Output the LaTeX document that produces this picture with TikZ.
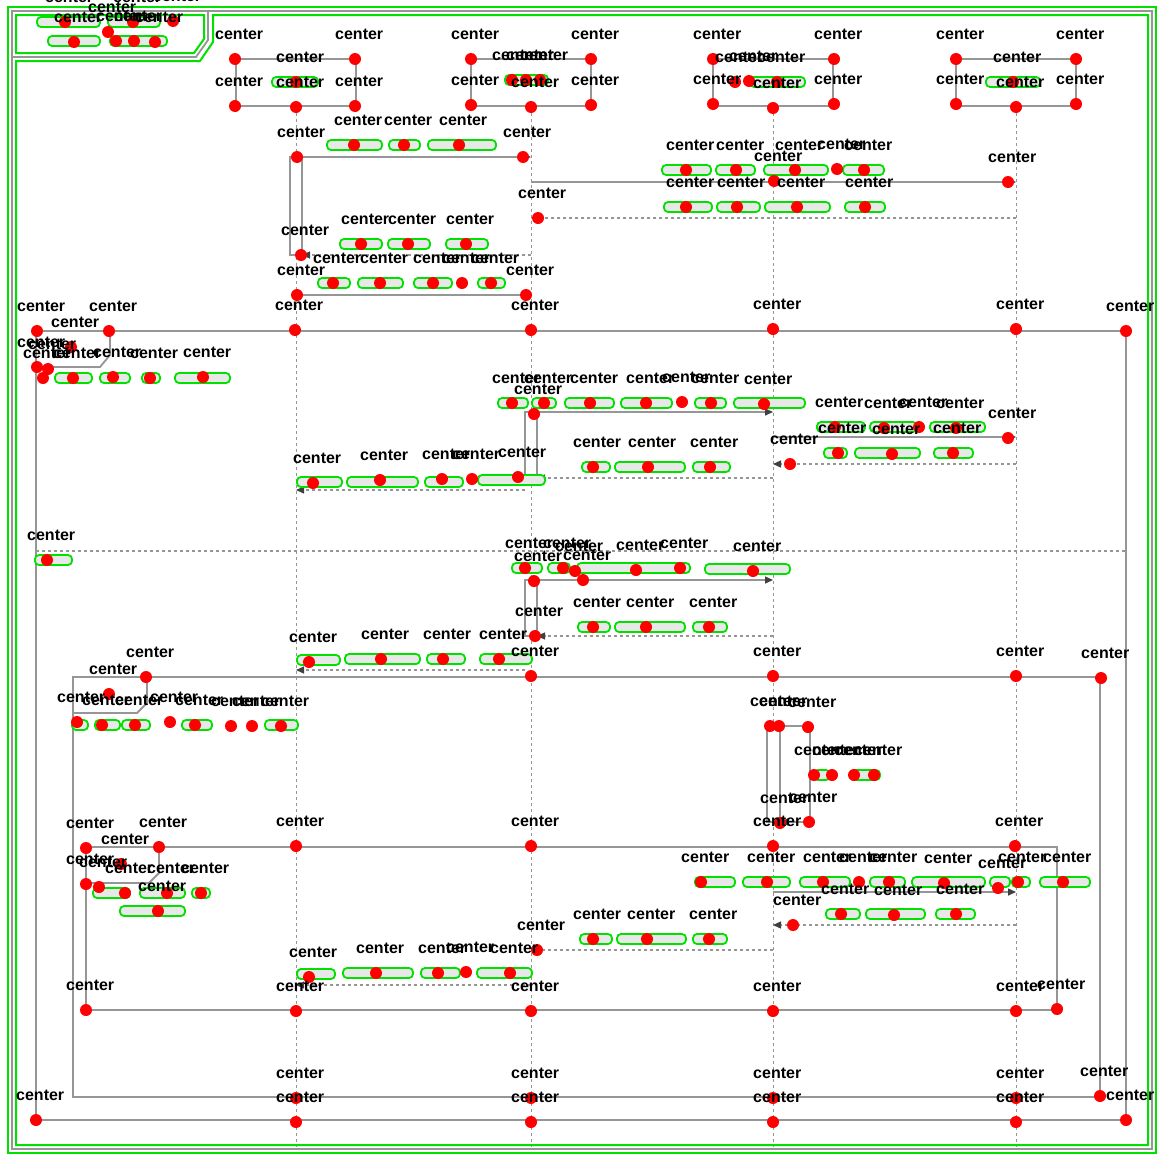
\documentclass[tikz,border=0pt]{standalone}
\usepackage{fontspec}
\setmainfont{Liberation Sans}
\usetikzlibrary{arrows.meta, positioning}
\definecolor{hitgreen}{RGB}{0,225,0}
\definecolor{hitred}{RGB}{255,0,0}
\definecolor{seqgray}{RGB}{150,150,150}
\def\xa{296}
\def\xb{531}
\def\xc{773}
\def\xd{1016}

\begin{document}
\begin{tikzpicture}[
    x=1pt, y=-1pt,
    >={Triangle[length=8pt,width=7pt,color=black!75]},
    partbox/.style={draw=seqgray, line width=1.5pt, fill=white, minimum width=120pt, minimum height=47pt, inner sep=0pt},
    lifeln/.style={draw=seqgray, line width=1pt, dash pattern=on 3pt off 3pt},
    fragln/.style={draw=seqgray, line width=1.8pt},
    actbar/.style={draw=seqgray, line width=1.3pt, fill=white},
    callmsg/.style={->, draw=seqgray, line width=1.5pt},
    retmsg/.style={->, draw=seqgray, line width=1.3pt, dash pattern=on 3pt off 3pt},
    txtblob/.style={draw=hitgreen, line width=1.8pt, fill=gray!18, rounded corners=4pt},
    hitline/.style={draw=hitgreen, line width=2pt},
    cdot/.style={fill=hitred},
    clbl/.style={font=\bfseries\fontsize{16}{16}\selectfont, anchor=base west, inner sep=0pt, text=black}
]
\useasboundingbox (0,0) rectangle (1167,1162);
\fill[white] (0,0) rectangle (1167,1162);

% participants and lifelines
\node[partbox] (pa) at (\xa,82.5) {};
\node[partbox] (pb) at (\xb,82.5) {};
\node[partbox] (pc) at (\xc,82.5) {};
\node[partbox] (pd) at (\xd,82.5) {};
\foreach \p in {pa,pb,pc,pd}
    \draw[lifeln] (\p.south) -- ++(0,1040);

% outer frame
\draw[fragln] (12,11) rectangle (1152,1149);
\draw[fragln] (12,57) -- (196,57) -- (208,40) -- (208,11);

% first exchange
\draw[actbar] (290,157) rectangle (302,255);
\draw[callmsg] (302,157) -- (\xb,157);
\draw[callmsg] (\xb,182) -- (\xd,182);
\draw[retmsg] (\xd,218) -- (\xb,218);
\draw[retmsg] (\xb,255) -- (302,255);
\draw[callmsg] (\xa,295) -- (\xb,295);

% loop frame
\draw[fragln] (36,331) rectangle (1126,1120);
\draw[fragln] (36,367) -- (100,367) -- (110,355) -- (110,331);
\draw[actbar] (525,412) rectangle (537,478);
\draw[callmsg] (537,412) -- (\xc,412);
\draw[callmsg] (\xc,437) -- (\xd,437);
\draw[retmsg] (\xd,464) -- (\xc,464);
\draw[retmsg] (\xc,478) -- (537,478);
\draw[retmsg] (525,490) -- (\xa,490);
\draw[lifeln, line width=1.3pt] (36,551) -- (1126,551);
\draw[actbar] (525,580) rectangle (537,636);
\draw[callmsg] (537,580) -- (\xc,580);
\draw[retmsg] (\xc,636) -- (537,636);
\draw[retmsg] (525,670) -- (\xa,670);

% second frame
\draw[fragln] (73,677) rectangle (1100,1097);
\draw[fragln] (73,713) -- (137,713) -- (147,703) -- (147,677);
\draw[actbar] (767,726) rectangle (780,822);
\draw[callmsg] (780,726) -- (810,726) -- (810,822) -- (780,822);

% inner frame
\draw[fragln] (86,847) rectangle (1057,1010);
\draw[fragln] (86,883) -- (149,883) -- (159,873) -- (159,847);
\draw[callmsg] (\xc,892) -- (\xd,892);
\draw[retmsg] (\xd,925) -- (\xc,925);
\draw[retmsg] (\xc,950) -- (\xb,950);
\draw[retmsg] (\xb,985) -- (\xa,985);

% green outlines
\draw[hitline] (8,7) rectangle (1156,1153);
\draw[hitline] (16,61) -- (16,1145) -- (1148,1145) -- (1148,15) -- (213,15) -- (213,42) -- (200,61) -- cycle;
\draw[hitline] (16,15) -- (204,15) -- (204,39) -- (194,53) -- (16,53) -- cycle;
\foreach \a/\b/\y in {
    37/100/22, 108/160/22, 48/100/41, 110/167/41,
    272/318/82, 505/548/80, 750/805/82, 986/1040/82,
    327/382/145, 389/420/145, 428/496/145,
    662/711/170, 716/755/170, 764/828/170, 843/884/170,
    664/712/207, 717/760/207, 765/830/207, 845/885/207,
    340/382/244, 388/430/244, 446/488/244,
    318/350/283, 358/403/283, 414/452/283, 478/505/283,
    55/92/378, 100/130/378, 142/160/378, 175/230/378,
    498/528/403, 532/556/403, 565/614/403, 621/672/403, 695/726/403, 734/805/403,
    817/865/427, 870/917/427, 930/985/427,
    824/847/453, 855/920/453, 934/973/453,
    582/610/467, 615/685/467, 693/730/467,
    297/342/482, 347/418/482, 425/463/482, 478/545/480,
    35/72/560,
    512/542/568, 548/570/568, 577/690/568, 705/790/569,
    578/610/627, 615/685/627, 693/727/627,
    297/340/660, 345/420/659, 427/465/659, 480/532/659,
    72/88/725, 95/120/725, 122/150/725, 182/212/725, 265/298/725,
    814/830/775, 850/880/775,
    695/735/882, 743/790/882, 800/850/882, 870/905/882, 912/985/882, 990/1010/882, 1012/1030/882, 1040/1090/882,
    93/130/893, 140/185/893, 192/210/893, 120/185/911,
    826/860/914, 866/925/914, 936/975/914,
    580/612/939, 617/686/939, 693/727/939,
    297/335/974, 343/413/973, 421/460/973, 477/532/973}
    \draw[txtblob] (\a,\y-5) rectangle (\b,\y+5);

% centre marks
\foreach \x/\y [count=\i] in {
    65/22, 133/22, 173/21, 108/32, 74/42, 116/41, 134/41, 155/42,
    235/59, 355/59, 296/82, 235/106, 355/106, 296/107,
    471/59, 591/59, 512/80, 526/80, 540/80, 471/105, 591/105, 531/107,
    713/59, 834/59, 735/82, 749/81, 777/82, 713/104, 834/104, 773/108,
    956/59, 1076/59, 1013/82, 956/104, 1076/104, 1016/107,
    297/157, 523/157, 354/145, 404/145, 459/145, 1008/182,
    686/170, 736/170, 795/170, 837/169, 864/170, 774/181,
    686/207, 737/207, 797/207, 865/207, 538/218, 301/255,
    361/244, 408/244, 466/244, 333/283, 380/283, 433/283, 462/283, 491/283,
    297/295, 526/295,
    37/331, 109/331, 295/330, 531/330, 773/329, 1016/329, 1126/331,
    71/347, 37/367, 48/369, 43/378, 73/378, 113/377, 150/378, 203/377,
    512/403, 544/403, 590/403, 646/403, 682/402, 711/403, 764/404, 534/414,
    835/427, 884/428, 919/427, 956/428, 1008/438, 790/464, 838/453, 892/454, 953/453,
    593/467, 648/467, 710/467, 313/483, 380/480, 442/479, 472/479, 518/477,
    47/560, 525/568, 563/568, 575/571, 583/580, 636/570, 680/568, 753/571,
    534/581, 535/636, 593/627, 646/627, 709/627,
    309/662, 381/659, 443/659, 499/659, 531/676,
    146/677, 773/676, 1016/676, 1101/678, 109/694,
    77/722, 102/725, 135/725, 170/722, 195/725, 231/726, 252/726, 281/726,
    770/726, 779/726, 808/727, 814/775, 832/775, 854/775, 874/775, 780/823, 809/822,
    86/848, 159/847, 296/846, 531/846, 773/846, 1015/846, 121/864,
    86/884, 99/887, 125/893, 167/893, 201/893, 158/911,
    701/882, 767/882, 823/882, 859/882, 889/882, 944/883, 998/888, 1018/882, 1063/882,
    841/914, 894/915, 956/914, 793/925,
    537/950, 593/939, 647/939, 709/939,
    309/977, 376/973, 438/973, 466/972, 510/973,
    86/1010, 296/1011, 531/1011, 773/1011, 1016/1011, 1057/1009,
    296/1098, 531/1098, 773/1098, 1016/1098, 1100/1096,
    36/1120, 296/1122, 531/1122, 773/1122, 1016/1122, 1126/1120}
    \fill[cdot] (\x,\y) circle (6);
\foreach \x/\y [count=\i] in {
    65/22, 133/22, 173/21, 108/32, 74/42, 116/41, 134/41, 155/42,
    235/59, 355/59, 296/82, 235/106, 355/106, 296/107,
    471/59, 591/59, 512/80, 526/80, 540/80, 471/105, 591/105, 531/107,
    713/59, 834/59, 735/82, 749/81, 777/82, 713/104, 834/104, 773/108,
    956/59, 1076/59, 1013/82, 956/104, 1076/104, 1016/107,
    297/157, 523/157, 354/145, 404/145, 459/145, 1008/182,
    686/170, 736/170, 795/170, 837/169, 864/170, 774/181,
    686/207, 737/207, 797/207, 865/207, 538/218, 301/255,
    361/244, 408/244, 466/244, 333/283, 380/283, 433/283, 462/283, 491/283,
    297/295, 526/295,
    37/331, 109/331, 295/330, 531/330, 773/329, 1016/329, 1126/331,
    71/347, 37/367, 48/369, 43/378, 73/378, 113/377, 150/378, 203/377,
    512/403, 544/403, 590/403, 646/403, 682/402, 711/403, 764/404, 534/414,
    835/427, 884/428, 919/427, 956/428, 1008/438, 790/464, 838/453, 892/454, 953/453,
    593/467, 648/467, 710/467, 313/483, 380/480, 442/479, 472/479, 518/477,
    47/560, 525/568, 563/568, 575/571, 583/580, 636/570, 680/568, 753/571,
    534/581, 535/636, 593/627, 646/627, 709/627,
    309/662, 381/659, 443/659, 499/659, 531/676,
    146/677, 773/676, 1016/676, 1101/678, 109/694,
    77/722, 102/725, 135/725, 170/722, 195/725, 231/726, 252/726, 281/726,
    770/726, 779/726, 808/727, 814/775, 832/775, 854/775, 874/775, 780/823, 809/822,
    86/848, 159/847, 296/846, 531/846, 773/846, 1015/846, 121/864,
    86/884, 99/887, 125/893, 167/893, 201/893, 158/911,
    701/882, 767/882, 823/882, 859/882, 889/882, 944/883, 998/888, 1018/882, 1063/882,
    841/914, 894/915, 956/914, 793/925,
    537/950, 593/939, 647/939, 709/939,
    309/977, 376/973, 438/973, 466/972, 510/973,
    86/1010, 296/1011, 531/1011, 773/1011, 1016/1011, 1057/1009,
    296/1098, 531/1098, 773/1098, 1016/1098, 1100/1096,
    36/1120, 296/1122, 531/1122, 773/1122, 1016/1122, 1126/1120}
    \node[clbl] (c\i) at (\x-20,\y-20) {center};

\end{tikzpicture}
\end{document}
